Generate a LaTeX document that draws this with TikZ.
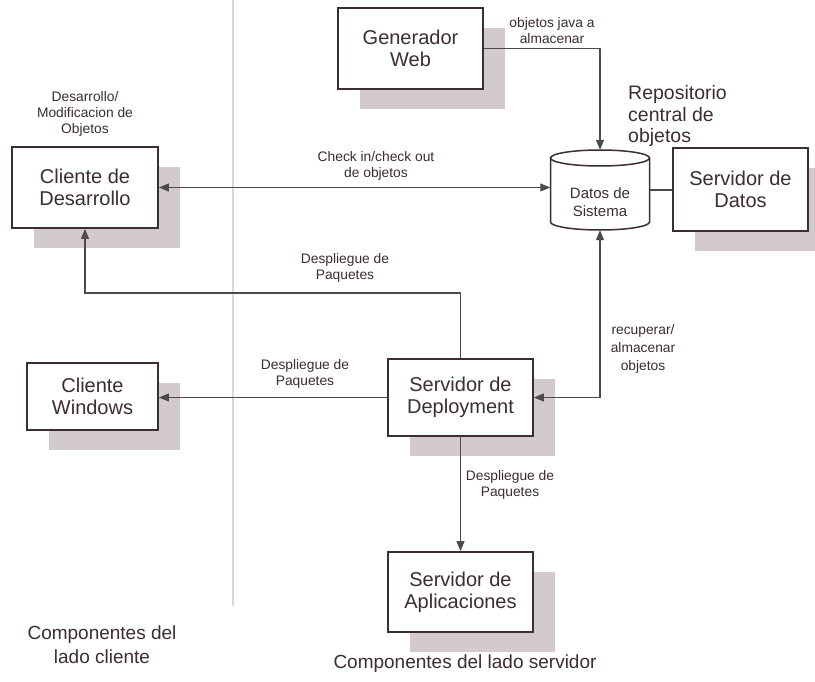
\documentclass[tikz,border=0pt]{standalone}
\usepackage{fontspec}
\setmainfont{Liberation Sans}
\usetikzlibrary{arrows.meta,shadows}
\definecolor{ink}{HTML}{3B2C35}
\definecolor{shadowc}{HTML}{D3CACE}
\definecolor{lineg}{HTML}{4E4A4C}
\definecolor{divg}{HTML}{DADADA}
\begin{document}
\begin{tikzpicture}[x=1pt,y=-1pt,
 box/.style={draw=ink, line width=1.8pt, fill=white, align=center, text=ink,
   font=\fontsize{20}{22}\selectfont, inner sep=0pt,
   drop shadow={shadow xshift=22pt, shadow yshift=-20pt, fill=shadowc, opacity=1}},
 lbl/.style={align=center, text=ink, font=\fontsize{13.8}{16}\selectfont, inner sep=0pt},
 big/.style={text=ink, font=\fontsize{19}{23}\selectfont, inner sep=0pt},
 conn/.style={draw=lineg, line width=1.1pt},
 tipe/.style={-{Triangle[length=10pt,width=8pt]}},
 tipb/.style={{Triangle[length=10pt,width=8pt]}-{Triangle[length=10pt,width=8pt]}},
 cylst/.style={draw=ink, line width=1.5pt}
]
\useasboundingbox (0,0) rectangle (815,682);
\fill[white] (0,0) rectangle (815,682);

% divider
\draw[divg, line width=1.5pt] (233,0) -- (233,606);

% boxes
\node[box, minimum width=145pt, minimum height=81pt] (gen) at (410.5,48.5) {Generador\\Web};
\node[box, minimum width=146pt, minimum height=81pt] (cd) at (85,187.5) {Cliente de\\Desarrollo};
\node[box, minimum width=135pt, minimum height=83pt] (sd) at (740.5,189.5) {Servidor de\\Datos};
\node[box, minimum width=131pt, minimum height=67pt] (cw) at (92.5,396.5) {Cliente\\Windows};
\node[box, minimum width=145pt, minimum height=77pt] (dep) at (460.5,397.5) {Servidor de\\Deployment};
\node[box, minimum width=145pt, minimum height=80pt] (apl) at (460.5,592) {Servidor de\\Aplicaciones};

% cylinder
\node[minimum width=99pt, minimum height=80pt, inner sep=0pt] (cyl) at (600,190) {};
\draw[cylst, fill=white] (550.5,158) -- (550.5,222)
  arc[start angle=180, end angle=360, x radius=49.5pt, y radius=8pt] -- (649.5,158);
\draw[cylst] (600,158) ellipse [x radius=49.5pt, y radius=8pt];
\node[align=center, text=ink, font=\fontsize{15}{18}\selectfont, inner sep=0pt] (cyltext) at (600,202) {Datos de\\Sistema};

% connectors
\draw[conn, tipe] (gen.east) -| (cyl.north);
\draw[conn, tipb] (cd.east) -- (cd.east -| cyl.west);
\draw[conn] (cyl.east) -- (cyl.east -| sd.west);
\coordinate (c1) at (300,293);
\draw[conn, tipe] (dep.north) |- (c1) -| (cd.south);
\draw[conn, tipe] (dep.west) -- (dep.west -| cw.east);
\draw[conn, tipb] (cyl.south) |- (dep.east);
\draw[conn, tipe] (dep.south) -- (apl.north);

% labels
\node[lbl] (l1) at (552,31) {objetos java a\\almacenar};
\node[lbl] (l2) at (85,114) {Desarrollo/\\Modificacion de\\Objetos};
\node[lbl] (l3) at (376,166) {Check in/check out\\de objetos};
\node[big, align=left, font=\fontsize{19.5}{21.5}\selectfont] (l4) at (628,116) [anchor=west] {Repositorio\\central de\\objetos};
\node[lbl] (l5) at (345,268) {Despliegue de\\Paquetes};
\node[lbl] (l6) at (305,374) {Despliegue de\\Paquetes};
\node[lbl, font=\fontsize{13.8}{18}\selectfont] (l7) at (643,349) {recuperar/\\almacenar\\objetos};
\node[lbl] (l8) at (510,485) {Despliegue de\\Paquetes};
\node[big, align=center, font=\fontsize{19}{24}\selectfont] (l9) at (102,645) {Componentes del\\lado cliente};
\node[big] (l10) at (465,664) {Componentes del lado servidor};
\end{tikzpicture}
\end{document}
